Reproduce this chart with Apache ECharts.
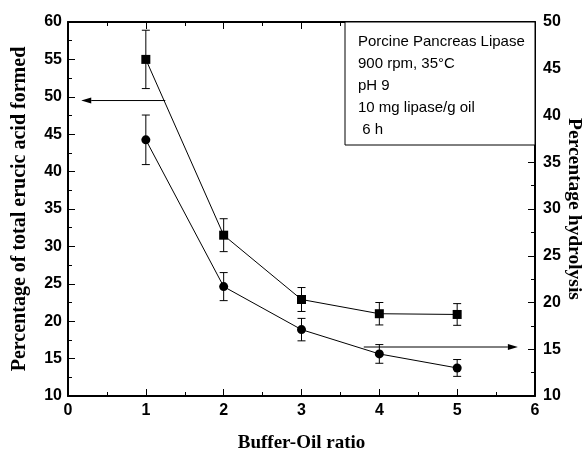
<!DOCTYPE html>
<html>
<head>
<meta charset="utf-8">
<script src="https://cdn.jsdelivr.net/npm/echarts@6/dist/echarts.min.js"></script>
<style>
html, body { margin: 0; padding: 0; background: #fff; }
#chart { width: 587px; height: 451px; }
</style>
</head>
<body>
<div id="chart"></div>
<script>
// data
const ratio = [1, 2, 3, 4, 5]
const erucicAcid = [55.0, 31.5, 22.9, 21.0, 20.9]
const erucicErr = [3.9, 2.2, 1.6, 1.5, 1.45]
const hydrolysis = [37.4, 21.7, 17.1, 14.5, 13.0]
const hydrolysisErr = [2.65, 1.5, 1.2, 1.0, 0.9]
const xRange = [0, 6, 1]
const leftRange = [10, 60, 5]
const rightRange = [10, 50, 5]
const leftArrow = [1.25, 49.5, 0.17, 49.5]
const rightArrow = [3.8, 15.24, 5.78, 15.24]
const noteLines = ['Porcine Pancreas Lipase', '900 rpm, 35°C', 'pH 9', '10 mg lipase/g oil', ' 6 h']

const sans = 'Liberation Sans, Arial, sans-serif'
const serif = 'Liberation Serif, Times New Roman, serif'

const chart = echarts.init(document.getElementById('chart'))

function axisBase (range) {
  return {
    min: range[0],
    max: range[1],
    interval: range[2],
    nameMoveOverlap: false,
    splitLine: { show: false },
    axisLine: { show: true, onZero: false, lineStyle: { color: '#000', width: 2 } },
    axisTick: { show: true, inside: true, length: 7, lineStyle: { color: '#000', width: 1 } },
    minorTick: { show: true, splitNumber: 2, length: 4, lineStyle: { color: '#000', width: 1 } },
    axisLabel: { color: '#000', fontFamily: sans, fontWeight: 'bold', fontSize: 16 }
  }
}

function errorBars (values, errs) {
  return values.map((v, i) => [ratio[i], v - errs[i], v + errs[i]])
}

function renderError (params, api) {
  const top = api.coord([api.value(0), api.value(2)])
  const bot = api.coord([api.value(0), api.value(1)])
  const w = 4
  const style = { stroke: '#000', lineWidth: 1 }
  return {
    type: 'group',
    children: [
      { type: 'line', shape: { x1: top[0], y1: top[1], x2: bot[0], y2: bot[1] }, style },
      { type: 'line', shape: { x1: top[0] - w, y1: top[1], x2: top[0] + w, y2: top[1] }, style },
      { type: 'line', shape: { x1: bot[0] - w, y1: bot[1], x2: bot[0] + w, y2: bot[1] }, style }
    ]
  }
}

function renderArrow (params, api) {
  const p1 = api.coord([api.value(0), api.value(1)])
  const p2 = api.coord([api.value(2), api.value(3)])
  const dir = p2[0] > p1[0] ? 1 : -1
  const len = 10
  const half = 3
  return {
    type: 'group',
    children: [
      { type: 'line', shape: { x1: p1[0], y1: p1[1], x2: p2[0] - dir * len, y2: p2[1] }, style: { stroke: '#000', lineWidth: 1 } },
      { type: 'polygon', shape: { points: [[p2[0], p2[1]], [p2[0] - dir * len, p2[1] - half], [p2[0] - dir * len, p2[1] + half]] }, style: { fill: '#000' } }
    ]
  }
}

const nameStyle = size => ({ fontFamily: serif, fontWeight: 'bold', fontSize: size, color: '#000' })

const option = {
  backgroundColor: '#fff',
  animation: false,
  grid: { left: 68, right: 52, top: 22, bottom: 55, containLabel: false, outerBoundsMode: 'none' },
  xAxis: [
    Object.assign(axisBase(xRange), {
      type: 'value',
      position: 'bottom',
      name: 'Buffer-Oil ratio',
      nameLocation: 'middle',
      nameGap: 38,
      nameTextStyle: nameStyle(19),
      axisLabel: { color: '#000', fontFamily: sans, fontWeight: 'bold', fontSize: 16, margin: 7 }
    }),
    Object.assign(axisBase(xRange), {
      type: 'value',
      position: 'top',
      axisLabel: { show: false }
    })
  ],
  yAxis: [
    Object.assign(axisBase(leftRange), {
      type: 'value',
      position: 'left',
      name: 'Percentage of total erucic acid formed',
      nameLocation: 'middle',
      nameGap: 38,
      nameTextStyle: nameStyle(20),
      axisLabel: { color: '#000', fontFamily: sans, fontWeight: 'bold', fontSize: 16, margin: 6 }
    }),
    Object.assign(axisBase(rightRange), {
      type: 'value',
      position: 'right',
      name: 'Percentage hydrolysis',
      nameLocation: 'middle',
      nameRotate: -90,
      nameGap: 29,
      nameTextStyle: nameStyle(19.5),
      axisLabel: { color: '#000', fontFamily: sans, fontWeight: 'bold', fontSize: 16, margin: 8 }
    })
  ],
  series: [
    {
      type: 'custom',
      xAxisIndex: 0,
      yAxisIndex: 0,
      renderItem: renderError,
      encode: { x: 0, y: [1, 2] },
      data: errorBars(erucicAcid, erucicErr),
      z: 1
    },
    {
      type: 'custom',
      xAxisIndex: 0,
      yAxisIndex: 1,
      renderItem: renderError,
      encode: { x: 0, y: [1, 2] },
      data: errorBars(hydrolysis, hydrolysisErr),
      z: 1
    },
    {
      type: 'line',
      xAxisIndex: 0,
      yAxisIndex: 0,
      data: ratio.map((x, i) => [x, erucicAcid[i]]),
      symbol: 'rect',
      symbolSize: 9,
      itemStyle: { color: '#000' },
      lineStyle: { color: '#000', width: 1 },
      z: 3
    },
    {
      type: 'line',
      xAxisIndex: 0,
      yAxisIndex: 1,
      data: ratio.map((x, i) => [x, hydrolysis[i]]),
      symbol: 'circle',
      symbolSize: 9,
      itemStyle: { color: '#000' },
      lineStyle: { color: '#000', width: 1 },
      z: 3
    },
    {
      type: 'custom',
      xAxisIndex: 0,
      yAxisIndex: 0,
      renderItem: renderArrow,
      clip: false,
      data: [leftArrow],
      z: 2
    },
    {
      type: 'custom',
      xAxisIndex: 0,
      yAxisIndex: 1,
      renderItem: renderArrow,
      clip: false,
      data: [rightArrow],
      z: 2
    }
  ],
  graphic: [
    {
      type: 'rect',
      z: 10,
      shape: { x: 345, y: 22, width: 190, height: 123 },
      style: { fill: '#fff', stroke: '#000', lineWidth: 1 }
    }
  ].concat(noteLines.map((t, i) => ({
    type: 'text',
    z: 11,
    x: 358,
    y: 41.7 + i * 22.1,
    style: { text: t, fontFamily: sans, fontSize: 15, fill: '#000', verticalAlign: 'middle' }
  })))
}

chart.setOption(option)
</script>
</body>
</html>
